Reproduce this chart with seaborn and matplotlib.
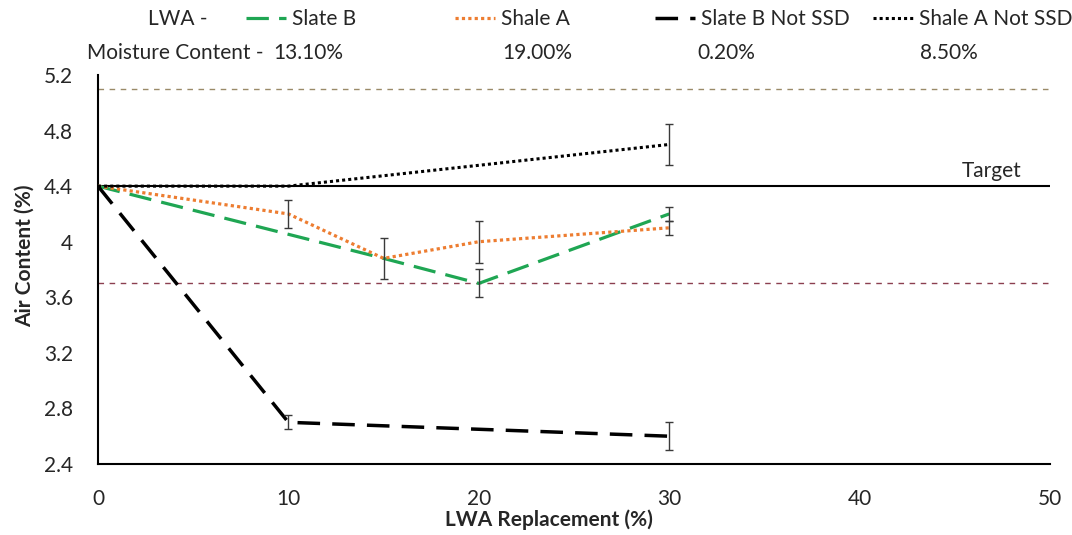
import matplotlib
matplotlib.use("Agg")
import matplotlib.pyplot as plt
from matplotlib.ticker import FuncFormatter, MultipleLocator
from matplotlib.lines import Line2D
import seaborn as sns
import pandas as pd

# ---- data ----
slate_b_x = [0, 15, 20, 30]
slate_b_y = [4.4, 3.88, 3.7, 4.2]
slate_b_err = [0, 0, 0.10, 0.05]

shale_a_x = [0, 10, 15, 20, 30]
shale_a_y = [4.4, 4.2, 3.88, 4.0, 4.1]
shale_a_err = [0, 0.10, 0.15, 0.15, 0.05]

slate_b_nssd_x = [0, 10, 30]
slate_b_nssd_y = [4.4, 2.7, 2.6]
slate_b_nssd_err = [0, 0.05, 0.10]

shale_a_nssd_x = [0, 10, 30]
shale_a_nssd_y = [4.4, 4.4, 4.7]
shale_a_nssd_err = [0, 0, 0.15]

series_names = ["Slate B", "Shale A", "Slate B Not SSD", "Shale A Not SSD"]
moisture = ["13.10%", "19.00%", "0.20%", "8.50%"]

target_y = 4.4
upper_limit = 5.1
lower_limit = 3.7

# ---- style ----
sns.set_style("white")
plt.rcParams["font.family"] = ["Lato", "DejaVu Sans"]
FS = 15

fig = plt.figure(figsize=(10.72, 5.35), dpi=100)
ax = fig.add_axes([98/1072, 1-464/535, (1050-98)/1072, (464-75)/535])

green = "#1fa653"
orange = "#ed7d31"

# reference lines
ax.axhline(upper_limit, color="#9a8a68", lw=1.0, ls=(0, (4, 4)), zorder=1)
ax.axhline(lower_limit, color="#8b3f50", lw=1.0, ls=(0, (4, 4)), zorder=1)
ax.axhline(target_y, color="black", lw=1.5, zorder=1)

series = [
    (slate_b_x, slate_b_y, slate_b_err, green, (0, (7, 3.2)), 2.3),
    (shale_a_x, shale_a_y, shale_a_err, orange, (0, (1, 1)), 2.3),
    (slate_b_nssd_x, slate_b_nssd_y, slate_b_nssd_err, "black", (0, (6.5, 3.5)), 2.5),
    (shale_a_nssd_x, shale_a_nssd_y, shale_a_nssd_err, "black", (0, (1, 1)), 2.2),
]

handles = []
for (xs, ys, es, col, ls, lw), name in zip(series, series_names):
    df = pd.DataFrame({"x": xs, "y": ys})
    sns.lineplot(data=df, x="x", y="y", ax=ax, color=col, linestyle=ls,
                 linewidth=lw, dash_capstyle="butt", zorder=3, legend=False)
    ex = [x for x, e in zip(xs, es) if e > 0]
    ey = [y for y, e in zip(ys, es) if e > 0]
    ee = [e for e in es if e > 0]
    ax.errorbar(ex, ey, yerr=ee, fmt="none", ecolor="#3a3a3a", elinewidth=1.0,
                capsize=3, capthick=1.0, zorder=4)
    handles.append(Line2D([], [], color=col, linestyle=ls, linewidth=lw,
                          dash_capstyle="butt", label=name))

ax.text(48.5, 4.44, "Target", ha="right", va="bottom", fontsize=FS)

ax.set_xlim(0, 50)
ax.set_ylim(2.4, 5.2)
ax.xaxis.set_major_locator(MultipleLocator(10))
ax.yaxis.set_major_locator(MultipleLocator(0.4))
ax.yaxis.set_major_formatter(FuncFormatter(lambda v, p: f"{v:g}"))
ax.tick_params(axis="x", length=0, pad=18, labelsize=FS)
ax.tick_params(axis="y", length=0, pad=18, labelsize=FS)

for s in ["top", "right"]:
    ax.spines[s].set_visible(False)
for s in ["left", "bottom"]:
    ax.spines[s].set_color("black")
    ax.spines[s].set_linewidth(1.5)

ax.set_xlabel("LWA Replacement (%)", fontsize=FS, fontweight="bold")
ax.set_ylabel("Air Content (%)", fontsize=FS, fontweight="bold")
ax.xaxis.set_label_coords((549-98)/952, (464-509)/389)
ax.yaxis.label.set_va("center")
ax.yaxis.set_label_coords((25-98)/952, (464-256)/389)

# legend row
handle_x = [246, 455, 655, 873]
row1_y = 1 - 19/535
for h, hx in zip(handles, handle_x):
    fig.legend(handles=[h], loc="center left", bbox_to_anchor=(hx/1072, row1_y),
               frameon=False, fontsize=FS, handlelength=1.9, handletextpad=0.3,
               borderpad=0, borderaxespad=0)

fig.text(148/1072, row1_y, "LWA -", ha="left", va="center", fontsize=FS)
row2_y = 1 - 53/535
fig.text(87/1072, row2_y, "Moisture Content -", ha="left", va="center", fontsize=FS)
for mx, m in zip([273, 502, 697, 920], moisture):
    fig.text(mx/1072, row2_y, m, ha="left", va="center", fontsize=FS)

fig.savefig("out.png", dpi=100)
